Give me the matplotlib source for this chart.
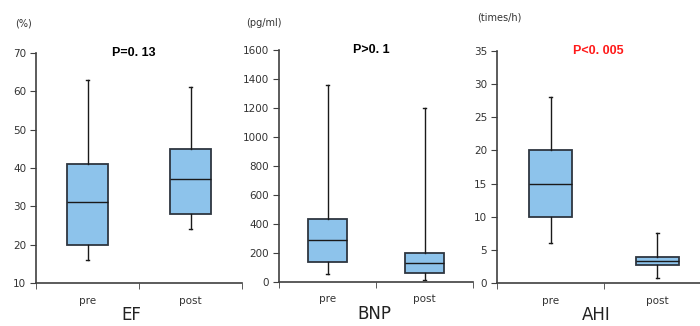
import matplotlib
matplotlib.use("Agg")
import matplotlib.pyplot as plt

# box stats: (whislo, q1, med, q3, whishi)
groups = ["pre", "post"]
ef_stats = [(16, 20, 31, 41, 63), (24, 28, 37, 45, 61)]
bnp_stats = [(55, 138, 290, 437, 1362), (11, 62, 131, 201, 1203)]
ahi_stats = [(6.1, 10, 15, 20, 28.1), (0.75, 2.66, 3.26, 3.9, 7.5)]

titles = ["EF", "BNP", "AHI"]
units = ["(%)", "(pg/ml)", "(times/h)"]
pvals = ["P=0. 13", "P>0. 1", "P<0. 005"]
pcolors = ["black", "black", "#ff1a1a"]
ylims = [(10, 70), (0, 1600), (0, 35)]
ysteps = [10, 200, 5]

W, H = 700, 326
fig = plt.figure(figsize=(7.0, 3.26), dpi=100)

# axes boxes in pixels: left, top, bottom, right
boxes = [(36, 53, 283, 242), (279, 50, 282, 473), (497, 51, 283, 711)]
unit_pos = [(15, 23), (246, 23), (477, 17)]
unit_w = [103, 103, 107]

fill = "#8dc3eb"
edge = "#2e3640"
axcol = "#404040"

for i, stats in enumerate([ef_stats, bnp_stats, ahi_stats]):
    l, t, b, r = boxes[i]
    ax = fig.add_axes([l / W, (H - b) / H, (r - l) / W, (b - t) / H])
    bxp = []
    for g, s in zip(groups, stats):
        bxp.append(dict(label=g, whislo=s[0], q1=s[1], med=s[2], q3=s[3], whishi=s[4], fliers=[]))
    ax.bxp(bxp, positions=[1, 2], widths=0.4, patch_artist=True, showfliers=False,
           boxprops=dict(facecolor=fill, edgecolor=edge, linewidth=1.3),
           medianprops=dict(color="#1a1a1a", linewidth=1.0),
           whiskerprops=dict(color="#1a1a1a", linewidth=1.0),
           capprops=dict(color="#1a1a1a", linewidth=1.0),
           capwidths=0.03)
    ax.set_xlim(0.5, 0.5 + (r - l) / unit_w[i])
    lo, hi = ylims[i]
    ax.set_ylim(lo, hi)
    ax.set_yticks(range(lo, hi + 1, ysteps[i]))
    ax.set_xticks([1, 2])
    ax.set_xticklabels(groups)
    ax.set_xticks([0.5, 1.5, 2.5], minor=True)
    ax.tick_params(axis="x", which="major", length=0, pad=9, labelsize=7.5, labelcolor="#333333")
    ax.tick_params(axis="x", which="minor", length=4, direction="out", color=axcol)
    ax.tick_params(axis="y", length=4, direction="out", color=axcol, labelsize=7.5,
                   labelcolor="#333333", pad=3)
    for sp in ["top", "right"]:
        ax.spines[sp].set_visible(False)
    for sp in ["left", "bottom"]:
        ax.spines[sp].set_color(axcol)
        ax.spines[sp].set_linewidth(1.2)
    ax.set_xlabel(titles[i], fontsize=12, color="#222222")
    ax.xaxis.set_label_coords((1.43 - 0.5) * unit_w[i] / (r - l), -0.1)
    ux, uy = unit_pos[i]
    fig.text(ux / W, 1 - uy / H, units[i], fontsize=7, color="#333333", va="center", ha="left")
    ax.text(1.45, hi, pvals[i], ha="center", va="center", fontsize=9, fontweight="bold",
            color=pcolors[i], family=["Liberation Sans Narrow", "Liberation Sans"],
            clip_on=False)

fig.savefig("out.png", dpi=100)
